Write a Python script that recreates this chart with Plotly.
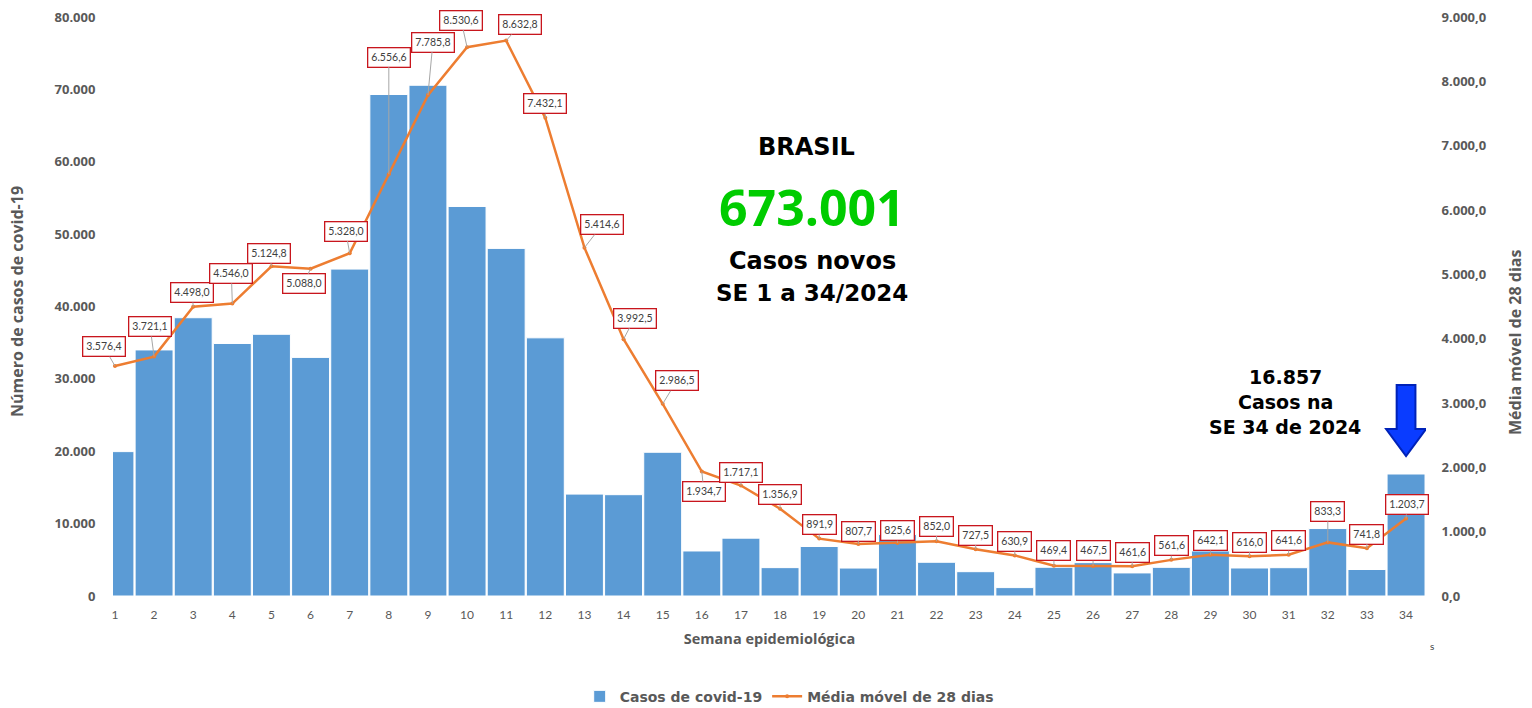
import plotly.graph_objects as go

# ---- data -------------------------------------------------------------
weeks = list(range(1, 35))
casos = [19950, 34000, 38450, 34890, 36160, 32970, 45170, 69290, 70570, 53820,
         48030, 35670, 14080, 14000, 19860, 6220, 7990, 3920, 6840, 3860,
         8490, 4660, 3360, 1160, 3970, 4610, 3190, 3960, 6220, 3870,
         3910, 9320, 3660, 16857]
media = [3576.4, 3721.1, 4498.0, 4546.0, 5124.8, 5088.0, 5328.0, 6556.6, 7785.8, 8530.6,
         8632.8, 7432.1, 5414.6, 3992.5, 2986.5, 1934.7, 1717.1, 1356.9, 891.9, 807.7,
         825.6, 852.0, 727.5, 630.9, 469.4, 467.5, 461.6, 561.6, 642.1, 616.0,
         641.6, 833.3, 741.8, 1203.7]
# label offsets (px) from each point of the moving average
label_dx = [-11, -4, -1, -1, -2, -7, -4, 0, 5, -6, 14, 0, 18, 11, 14, 2, 0, 0,
            0, 0, 0, 0, 0, 0, 0, 0, 0, 0, 0, 0, 0, 0, 0, 1]
label_dy = [-19, -30, -14, -30, -13, 15, -22, -117, -53, -27, -16, -14, -23, -21, -23, 20, -13, -14,
            -14, -13, -12, -15, -14, -14, -15, -15, -14, -14, -14, -14, -14, -31, -14, -14]
total_txt = "673.001"
ultima_txt = "16.857"

GRAY = "#595959"
BLUE = "#5b9bd5"
ORANGE = "#ed7d31"


def br(v):
    s = f"{v:,.1f}"
    return s.replace(",", "X").replace(".", ",").replace("X", ".")


fig = go.Figure()
fig.add_trace(go.Bar(
    x=weeks, y=casos, name="Casos de covid-19",
    marker=dict(color=BLUE, line=dict(color="white", width=1)),
    yaxis="y",
))
fig.add_trace(go.Scatter(
    x=weeks, y=media, name="Média móvel de 28 dias",
    mode="lines+markers", line=dict(color=ORANGE, width=2.5),
    marker=dict(color=ORANGE, size=4), yaxis="y2",
))

annotations = []
for w, v, dx, dy in zip(weeks, media, label_dx, label_dy):
    annotations.append(dict(
        x=w, y=v, xref="x", yref="y2", text=br(v),
        showarrow=True, arrowhead=0, arrowwidth=1, arrowcolor="#a6a6a6",
        ax=dx, ay=dy, font=dict(family="Lato, Open Sans", size=10.5, color="#404040"),
        bgcolor="white", bordercolor="#c8161d", borderwidth=1.3, borderpad=3,
    ))

big = dict(family="DejaVu Sans", color="black")
text_ann = [
    dict(x=806, y=147, text="<b>BRASIL</b>", font=dict(size=24, **big)),
    dict(x=812, y=207, text="<b>%s</b>" % total_txt,
         font=dict(family="Open Sans, Lato", size=50, color="#00cc00")),
    dict(x=812, y=261, text="<b>Casos novos</b>", font=dict(size=24, **big)),
    dict(x=812, y=293, text="<b>SE 1 a 34/2024</b>", font=dict(size=23, **big)),
    dict(x=1285, y=377, text="<b>%s</b>" % ultima_txt, font=dict(size=19, **big)),
    dict(x=1285, y=402, text="<b>Casos na</b>", font=dict(size=19, **big)),
    dict(x=1285, y=427, text="<b>SE 34 de 2024</b>", font=dict(size=19, **big)),
    dict(x=1432, y=646, text="s", font=dict(family="Lato", size=10, color="#404040")),
    dict(x=17, y=302, text="<b>Número de casos de covid-19</b>", textangle=-90,
         font=dict(family="Open Sans", size=16, color=GRAY)),
    dict(x=1515, y=342, text="<b>Média móvel de 28 dias</b>", textangle=-90,
         font=dict(family="Open Sans", size=16, color=GRAY)),
]
# convert pixel-positioned text annotations to paper coordinates
L, R, T, B = 113, 1426, 17, 596
for a in text_ann:
    px, py = a["x"], a["y"]
    a["x"] = (px - L) / (R - L)
    a["y"] = (B - py) / (B - T)
    a["xref"] = "paper"
    a["yref"] = "paper"
    a["xanchor"] = "center"
    a["yanchor"] = "middle"
    a["showarrow"] = False
annotations += text_ann

# blue block arrow pointing at the last bar
xc = weeks[-1]
arrow_path = (f"M {xc-0.24},29150 L {xc+0.24},29150 L {xc+0.24},23070 L {xc+0.51},23070 "
              f"L {xc},19340 L {xc-0.51},23070 L {xc-0.24},23070 Z")

fig.update_layout(
    width=1532, height=708,
    margin=dict(l=L, r=1532 - R, t=T, b=708 - B, autoexpand=False),
    paper_bgcolor="white", plot_bgcolor="white",
    separators=",.",
    bargap=0.03,
    font=dict(family="Open Sans, Lato", color=GRAY),
    xaxis=dict(
        range=[0.95, 34.51], tickmode="array", tickvals=weeks, ticktext=[str(w) for w in weeks],
        showgrid=False, zeroline=False, showline=False,
        ticks="outside", ticklen=8, tickcolor="rgba(0,0,0,0)",
        tickfont=dict(family="Lato", size=12, color=GRAY),
        title=dict(text="<b>Semana epidemiológica</b>", standoff=12,
                   font=dict(family="Open Sans", size=14.5, color=GRAY)),
    ),
    yaxis=dict(
        range=[0, 80000], dtick=10000, tickformat=",.0f",
        showgrid=False, zeroline=False, showline=False,
        ticks="outside", ticklen=14, tickcolor="rgba(0,0,0,0)",
        tickfont=dict(family="Open Sans", size=13, color=GRAY, weight="bold"),
    ),
    yaxis2=dict(
        range=[0, 9000], dtick=1000, tickformat=",.1f", overlaying="y", side="right",
        showgrid=False, zeroline=False, showline=False,
        ticks="outside", ticklen=12, tickcolor="rgba(0,0,0,0)",
        tickfont=dict(family="Open Sans", size=13, color=GRAY, weight="bold"),
    ),
    legend=dict(orientation="h", x=0.515, xanchor="center", y=-0.174, yanchor="middle",
                font=dict(family="DejaVu Sans", size=14, color=GRAY, weight="bold"),
                itemwidth=30, traceorder="normal"),
    annotations=annotations,
    shapes=[dict(type="path", xref="x", yref="y", path=arrow_path,
                 fillcolor="#0a3cff", line=dict(color="#0022b8", width=2), layer="above")],
)

fig.write_html("out.html")
